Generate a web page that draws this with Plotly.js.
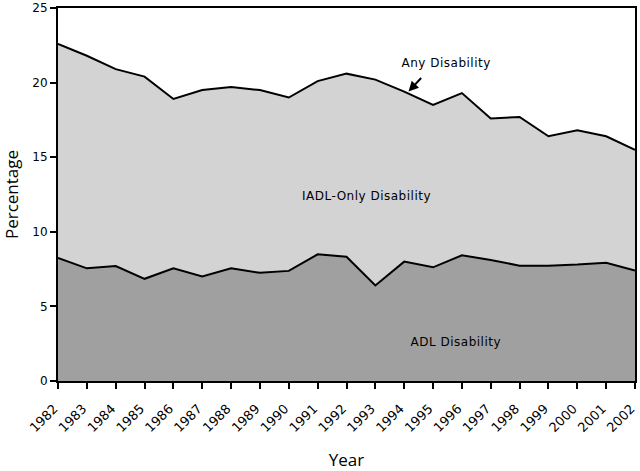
<!DOCTYPE html>
<html>
<head>
<meta charset="utf-8">
<script src="https://cdn.plot.ly/plotly-3.0.1.min.js"></script>
<style>
html,body{margin:0;padding:0;background:#fff;}
#chart{width:640px;height:471px;}
#chart .annotation-text{letter-spacing:0.5px;}
</style>
</head>
<body>
<div id="chart"></div>
<script>
const years = [1982,1983,1984,1985,1986,1987,1988,1989,1990,1991,1992,1993,1994,1995,1996,1997,1998,1999,2000,2001,2002];
const anyDisability = [22.6,21.8,20.9,20.4,18.9,19.5,19.7,19.5,19.0,20.1,20.6,20.2,19.4,18.5,19.3,17.6,17.7,16.4,16.8,16.4,15.5];
const adlDisability = [8.25,7.55,7.7,6.85,7.55,7.0,7.55,7.25,7.38,8.49,8.33,6.4,8.0,7.62,8.42,8.11,7.73,7.73,7.8,7.93,7.4];
const yTicks = [0,5,10,15,20,25];

const titleFont = "'Open Sans', 'DejaVu Sans', sans-serif";
const labelFont = "'DejaVu Sans', sans-serif";

const traces = [
  {x: years, y: adlDisability, type: 'scatter', mode: 'lines', fill: 'tozeroy',
   fillcolor: '#a0a0a0', line: {color: '#000', width: 2}, hoverinfo: 'skip'},
  {x: years, y: anyDisability, type: 'scatter', mode: 'lines', fill: 'tonexty',
   fillcolor: '#d3d3d3', line: {color: '#000', width: 2}, hoverinfo: 'skip'}
];

const layout = {
  width: 640, height: 471,
  margin: {l: 58, r: 5, t: 8, b: 90},
  paper_bgcolor: '#fff', plot_bgcolor: '#fff',
  showlegend: false,
  font: {family: labelFont, color: '#000', size: 12},
  xaxis: {
    range: [1982, 2002], tickvals: years, ticktext: years.map(String),
    tickangle: -45, ticks: 'outside', ticklen: 6, tickwidth: 2, tickcolor: '#000',
    showline: true, linecolor: '#000', linewidth: 2, mirror: true,
    showgrid: false, zeroline: false, fixedrange: true,
    ticklabelstandoff: 7, ticklabelshift: -4, ticklabeloverflow: 'allow',
    tickfont: {size: 13, family: labelFont},
    title: {text: 'Year', font: {size: 17, family: titleFont}, standoff: 33}
  },
  yaxis: {
    range: [0, 25], tickvals: yTicks,
    ticks: 'outside', ticklen: 6, tickwidth: 2, tickcolor: '#000',
    showline: true, linecolor: '#000', linewidth: 2, mirror: true,
    showgrid: false, zeroline: false, fixedrange: true,
    tickfont: {size: 12, family: labelFont},
    title: {text: 'Percentage', font: {size: 17, family: titleFont}, standoff: 14}
  },
  annotations: [
    {x: 1995.46, y: 21.3, xref: 'x', yref: 'y', text: 'Any Disability', showarrow: false,
     font: {size: 12, family: labelFont}},
    {x: 1994.15, y: 19.4, xref: 'x', yref: 'y', text: '', showarrow: true,
     ax: 14, ay: -15, arrowhead: 2, arrowsize: 1, arrowwidth: 2, arrowcolor: '#000', standoff: 0},
    {x: 1992.7, y: 12.4, xref: 'x', yref: 'y', text: 'IADL-Only Disability', showarrow: false,
     font: {size: 12, family: labelFont}},
    {x: 1995.8, y: 2.6, xref: 'x', yref: 'y', text: 'ADL Disability', showarrow: false,
     font: {size: 12, family: labelFont}}
  ]
};

Plotly.newPlot('chart', traces, layout, {staticPlot: true, displayModeBar: false});
</script>
</body>
</html>
